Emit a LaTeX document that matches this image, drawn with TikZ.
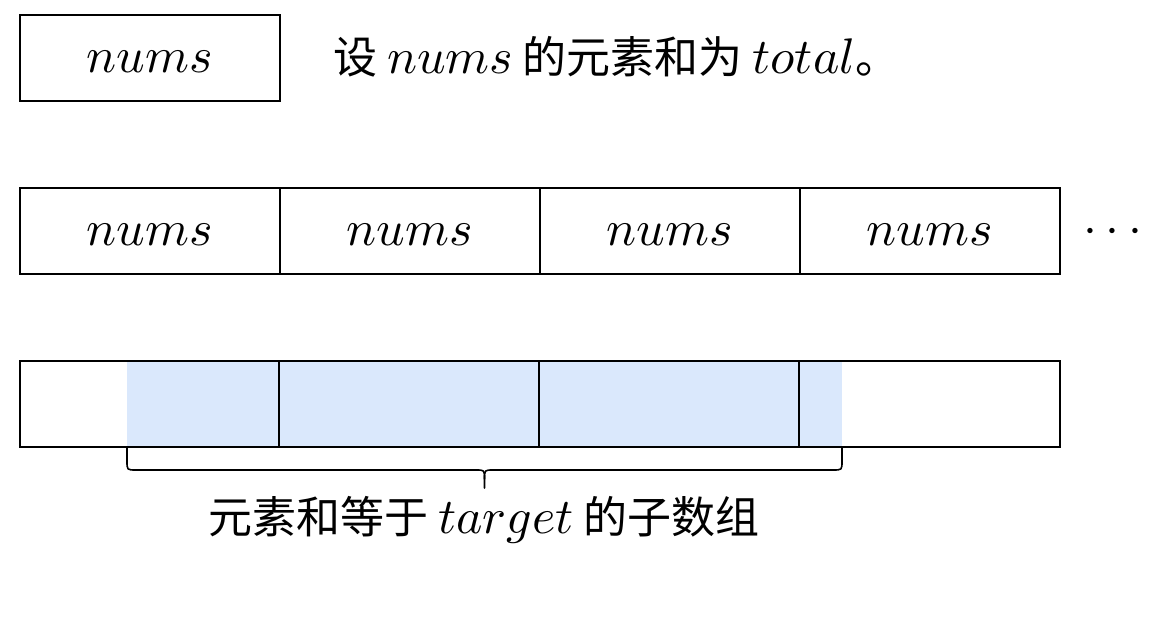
\documentclass[tikz,border=0pt]{standalone}
\usepackage{graphicx}
\usepackage{fontspec}
\newfontfamily\cjk{Noto Sans CJK SC}
\definecolor{subfill}{HTML}{DAE8FC}
\newcommand{\mm}[1]{\scalebox{5}{\fontsize{10}{12}\selectfont$#1$}}
\newcommand{\cfs}{\fontsize{44}{52}\selectfont}
\begin{document}
\begin{tikzpicture}[x=1pt,y=-1pt,
  cell/.style={draw=black,line width=1.6pt,minimum width=260pt,minimum height=86pt,inner sep=0pt,anchor=north west,text height=30pt,text depth=0pt},
  lbl/.style={inner sep=0pt,font=\cfs\cjk},
  brc/.style={draw=black,line width=1.6pt,line cap=round,line join=round}]
\useasboundingbox (0,0) rectangle (1164,617);
% top
\node[cell] (t0) at (19,14) {\mm{nums}};
\node[lbl,anchor=base west] (tt) at (333,74) {设 \mm{nums} 的元素和为 \mm{total}。};
% middle row
\node[cell] (m1) at (19,187) {\mm{nums}};
\node[cell] (m2) at (279,187) {\mm{nums}};
\node[cell] (m3) at (539,187) {\mm{nums}};
\node[cell] (m4) at (799,187) {\mm{nums}};
\node[inner sep=0pt] (dots) at (1113,232) {\mm{\cdots}};
% bottom row
\fill[subfill] (127,360) rectangle (842,446);
\node[cell,minimum width=1040pt] (b) at (19,360) {};
\draw[line width=1.6pt] (279,360) -- (279,446) (539,360) -- (539,446) (799,360) -- (799,446);
% brace
\coordinate (bl) at (127,447);
\coordinate (br) at (842,447);
\coordinate (bm) at (484.5,488);
\draw[brc] (bl) -- (127,461) .. controls (127,470) .. (136,470) -- (476,470)
  .. controls (484.5,470) .. (484.5,479) -- (bm);
\draw[brc] (br) -- (842,461) .. controls (842,470) .. (833,470) -- (493,470)
  .. controls (484.5,470) .. (484.5,479);
\node[lbl,anchor=base] (bt) at (484,533) {元素和等于 \mm{target} 的子数组};
\end{tikzpicture}
\end{document}
